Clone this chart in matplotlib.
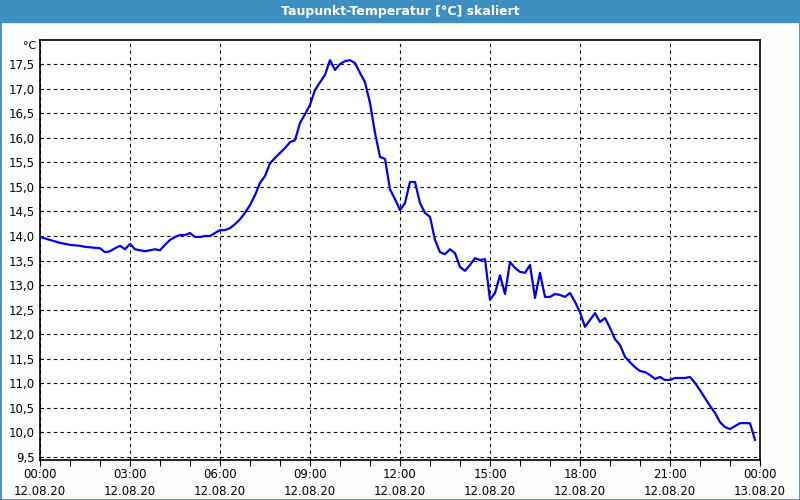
import numpy as np
import pandas as pd
import matplotlib
matplotlib.use("Agg")
import matplotlib.pyplot as plt
import matplotlib.dates as mdates
from matplotlib.patches import Rectangle

# Dew point readings, one every 10 minutes from 12.08.20 00:00
dewpoint = [
    13.98, 13.95, 13.92, 13.89, 13.86, 13.84, 13.82, 13.81, 13.80, 13.78,
    13.77, 13.76, 13.75, 13.67, 13.69, 13.75, 13.80, 13.73, 13.84, 13.73,
    13.71, 13.69, 13.71, 13.73, 13.71, 13.82, 13.92, 13.98, 14.02, 14.02,
    14.06, 13.98, 13.98, 14.00, 14.00, 14.06, 14.12, 14.12, 14.16, 14.24,
    14.34, 14.47, 14.63, 14.83, 15.08, 15.22, 15.48, 15.59, 15.69, 15.79,
    15.91, 15.95, 16.30, 16.48, 16.67, 16.97, 17.13, 17.28, 17.58, 17.38,
    17.50, 17.56, 17.58, 17.52, 17.32, 17.13, 16.71, 16.10, 15.61, 15.57,
    14.95, 14.75, 14.53, 14.67, 15.10, 15.10, 14.67, 14.47, 14.39, 13.92,
    13.67, 13.63, 13.73, 13.65, 13.37, 13.29, 13.41, 13.55, 13.51, 13.53,
    12.70, 12.84, 13.20, 12.82, 13.47, 13.35, 13.27, 13.25, 13.41, 12.74,
    13.25, 12.76, 12.76, 12.82, 12.80, 12.76, 12.84, 12.66, 12.45, 12.15,
    12.29, 12.43, 12.25, 12.33, 12.13, 11.90, 11.78, 11.54, 11.43, 11.33,
    11.25, 11.23, 11.17, 11.09, 11.13, 11.07, 11.07, 11.11, 11.11, 11.11,
    11.13, 11.01, 10.86, 10.70, 10.54, 10.40, 10.21, 10.11, 10.07, 10.13,
    10.19, 10.19, 10.19, 9.85,
]
times = pd.date_range("2020-08-12 00:00", periods=len(dewpoint), freq="10min")

y_ticks = np.arange(9.5, 17.51, 0.5)
x_start = pd.Timestamp("2020-08-12 00:00")
x_end = pd.Timestamp("2020-08-13 00:00")

title = "Taupunkt-Temperatur [°C] skaliert"
bar_color = "#3d8fc2"

fig = plt.figure(figsize=(8, 5), dpi=100, facecolor="#fcfefc")

# title bar and window frame
fig.patches.append(Rectangle((0, 1 - 22 / 500), 1, 22 / 500, transform=fig.transFigure,
                             color=bar_color, zorder=0))
fig.patches.append(Rectangle((0, 0), 1, 1, transform=fig.transFigure, fill=False,
                             edgecolor=bar_color, linewidth=2, zorder=0))
fig.text(0.5, 1 - 11 / 500, title, color="white", fontweight="bold", fontsize=9,
         ha="center", va="center")

ax = fig.add_axes([40 / 800, 40 / 500, 720 / 800, 420 / 500])
ax.set_facecolor("white")
ax.plot(times, dewpoint, color="#0000ee", linewidth=1.6, zorder=3)

ax.set_xlim(x_start, x_end)
ax.set_ylim(9.44, 17.99)

ax.set_yticks(y_ticks)
ax.set_yticklabels([f"{v:.1f}".replace(".", ",") for v in y_ticks])
ax.tick_params(axis="y", length=0, pad=4, labelsize=8.5)

ax.xaxis.set_major_locator(mdates.HourLocator(byhour=range(0, 24, 3)))
ax.xaxis.set_minor_locator(mdates.HourLocator())
ax.xaxis.set_major_formatter(mdates.DateFormatter("%H:%M\n%d.%m.%y"))
ax.tick_params(axis="x", which="both", length=4, width=0.8, pad=2, labelsize=8.5)
for lbl in ax.get_xticklabels():
    lbl.set_linespacing(1.35)

ax.grid(True, which="major", color="black", linestyle=(0, (3, 3)), linewidth=0.8)
for s in ax.spines.values():
    s.set_color("black")
    s.set_linewidth(1.2)

fig.text(36 / 800, 1 - 46 / 500, "°C", ha="right", va="center", fontsize=8)

fig.savefig("out.png", dpi=100, facecolor=fig.get_facecolor())
